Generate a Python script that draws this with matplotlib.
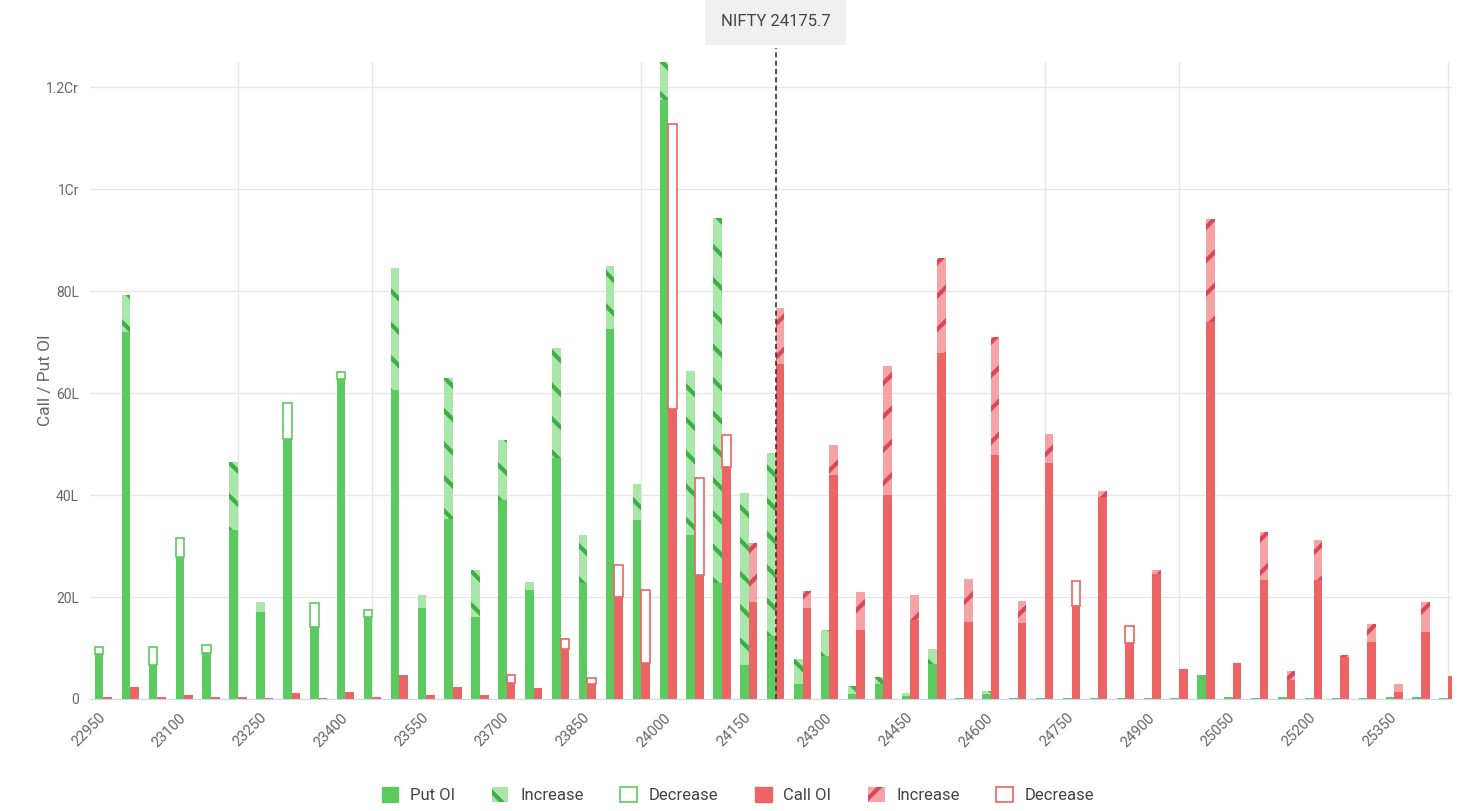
import numpy as np
import matplotlib.pyplot as plt
from matplotlib.patches import Patch
from matplotlib.ticker import FuncFormatter

plt.rcParams['font.family'] = ['Roboto', 'DejaVu Sans']
plt.rcParams['hatch.linewidth'] = 3.0

# strikes and spot
strikes = np.arange(22950, 25451, 50)
spot = 24175.7

# OI in lakhs, change: + increase / - decrease
put_oi = [8.8, 79.2, 6.7, 27.9, 9.1, 46.5, 19.1, 51.1, 14.2, 62.7,
          16.0, 84.5, 20.4, 62.9, 25.3, 50.9, 23.0, 68.8, 32.2, 84.9,
          42.2, 125.5, 64.3, 94.4, 40.5, 48.3, 7.9, 13.5, 2.5, 4.4,
          1.2, 9.8, 0.2, 1.5, 0.1, 0.1, 0.1, 0.1, 0.2, 0.1,
          0.1, 4.7, 0.3, 0.1, 0.3, 0.1, 0.1, 0.1, 0.3, 0.4, 0.1]
put_chg = [-1.5, 7.2, -3.6, -3.6, -1.5, 13.4, 2.0, -7.0, -4.6, -1.5,
           -1.5, 23.9, 2.6, 27.5, 9.2, 11.9, 1.6, 21.6, 9.5, 12.2,
           7.1, 8.0, 32.1, 71.7, 33.9, 35.9, 5.0, 5.0, 1.5, 1.5,
           0.6, 3.0, 0, 0.5, 0, 0, 0, 0, 0, 0,
           0, 0, 0, 0, 0, 0, 0, 0, 0, 0, 0]
call_oi = [0.4, 2.4, 0.3, 0.7, 0.3, 0.3, 0.2, 1.1, 0.2, 1.4,
           0.3, 4.7, 0.7, 2.4, 0.8, 3.1, 2.1, 9.9, 2.9, 20.1,
           7.1, 56.9, 24.4, 45.6, 30.6, 76.7, 21.1, 49.8, 20.9, 65.4,
           20.5, 86.5, 23.5, 71.0, 19.2, 52.0, 18.2, 40.8, 10.9, 25.4,
           5.9, 94.1, 7.1, 32.8, 5.4, 31.2, 8.6, 14.8, 2.9, 19.0, 4.5]
call_chg = [0, 0, 0, 0, 0, 0, 0, 0, 0, 0,
            0, 0, 0, 0, 0, -1.6, 0, -1.8, -1.2, -6.2,
            -14.3, -55.9, -19.0, -6.2, 11.6, 11.0, 3.3, 5.9, 7.3, 25.3,
            4.9, 18.7, 8.3, 23.1, 4.3, 5.7, -4.9, 1.1, -3.5, 0.8,
            0, 20.2, 0, 9.5, 1.7, 7.9, 0.3, 3.6, 1.5, 5.8, 0]

green = '#5ccb5f'
green_lt = '#a8e6aa'
green_dk = '#3fae45'
red = '#ec6464'
red_lt = '#f5a3a6'
red_dk = '#d9485a'

x = np.arange(len(strikes))
w = 0.32


def draw_side(ax, xpos, oi, chg, col, col_lt, col_dk, hatch):
    oi = np.array(oi)
    chg = np.array(chg)
    inc = np.clip(chg, 0, None)
    dec = np.clip(-chg, 0, None)
    base = oi - inc
    ax.bar(xpos, base, w, color=col, lw=0, zorder=3)
    m = inc > 0
    ax.bar(xpos[m], inc[m], w, bottom=base[m], facecolor=col_lt,
           edgecolor=col_dk, hatch=hatch, lw=0, zorder=3)
    m = dec > 0
    ax.bar(xpos[m], dec[m], w, bottom=oi[m], facecolor='white',
           edgecolor=col, lw=1.2, zorder=3)


fig = plt.figure(figsize=(14.61, 8.11), dpi=100)
ax = fig.add_axes([90 / 1461, 1 - 699 / 811, (1452 - 90) / 1461, (699 - 62) / 811])

draw_side(ax, x - w / 2, put_oi, put_chg, green, green_lt, green_dk, '\\')
draw_side(ax, x + w / 2, call_oi, call_chg, red, red_lt, red_dk, '/')

ax.set_xlim(-0.5, 50.15)
ax.set_ylim(0, 125)

# y axis
ax.set_yticks([0, 20, 40, 60, 80, 100, 120])


def fmt(v, pos):
    if v == 0:
        return '0'
    if v >= 100:
        return f'{v / 100:g}Cr'
    return f'{v:g}L'


ax.yaxis.set_major_formatter(FuncFormatter(fmt))
ax.grid(axis='y', color='#e6e6e6', lw=1, zorder=0)

# x axis
ax.set_xticks(x[::3])
ax.set_xticklabels([str(s) for s in strikes[::3]], rotation=45, ha='right',
                   rotation_mode='anchor', va='center')
ax.set_xticks(x[::5], minor=True)
ax.grid(axis='x', which='minor', color='#e6e6e6', lw=1, zorder=0)
ax.tick_params(axis='x', which='both', length=0, pad=12, labelsize=10.5, labelcolor='#666666')
ax.tick_params(axis='y', length=0, pad=8, labelsize=10, labelcolor='#666666')

for s in ['top', 'right', 'left']:
    ax.spines[s].set_visible(False)
ax.spines['bottom'].set_color('#ccd6eb')
ax.spines['bottom'].set_zorder(4)

ax.set_ylabel('Call / Put OI', color='#666666', fontsize=12.5)
ax.yaxis.set_label_coords(-0.027, 0.5)

# spot line at nearest strike
spot_idx = int(np.argmin(np.abs(strikes - spot)))
ax.axvline(spot_idx, ymin=0, ymax=1.022, clip_on=False, color='#333333',
           ls=(0, (3, 2)), lw=1.2, zorder=5)
ax.text(spot_idx, 1.063, f'NIFTY {spot}', transform=ax.get_xaxis_transform(),
        ha='center', va='center', fontsize=12, color='#444444', clip_on=False,
        bbox=dict(boxstyle='square,pad=0.95', facecolor='#f0f0f0', edgecolor='none'))

handles = [
    Patch(facecolor=green, edgecolor=green, label='Put OI'),
    Patch(facecolor=green_lt, edgecolor=green_dk, hatch='\\', lw=0, label='Increase'),
    Patch(facecolor='white', edgecolor=green, lw=1.2, label='Decrease'),
    Patch(facecolor=red, edgecolor=red, label='Call OI'),
    Patch(facecolor=red_lt, edgecolor=red_dk, hatch='/', lw=0, label='Increase'),
    Patch(facecolor='white', edgecolor=red, lw=1.2, label='Decrease'),
]
leg = fig.legend(handles=handles, loc='center', bbox_to_anchor=(738 / 1461, 1 - 795 / 811),
                 ncol=6, frameon=False, fontsize=12, handlelength=1.0, handleheight=1.0,
                 handletextpad=0.7, columnspacing=2.2)
for t in leg.get_texts():
    t.set_color('#444444')

plt.savefig('out.png', dpi=100)
